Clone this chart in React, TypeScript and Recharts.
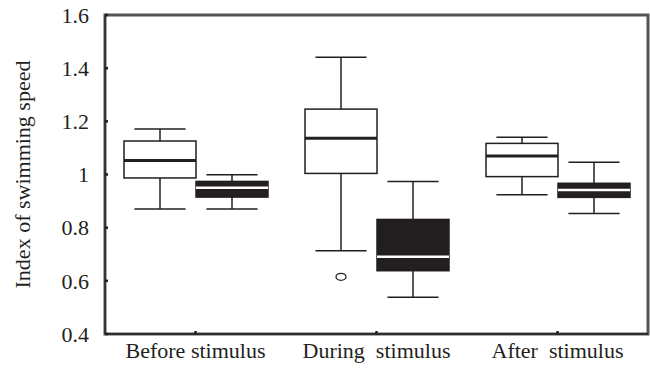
import React from "react";
import { ComposedChart, Bar, XAxis, YAxis, ReferenceArea } from "recharts";

const categories = ["Before stimulus", "During\u00A0 stimulus", "After\u00A0 stimulus"];

// open (white) boxes
const openMin = [0.87, 0.713, 0.924];
const openQ1 = [0.987, 1.004, 0.992];
const openMedian = [1.053, 1.136, 1.07];
const openQ3 = [1.126, 1.246, 1.117];
const openMax = [1.171, 1.441, 1.14];
const openOutliers: number[][] = [[], [0.615], []];

// filled (black) boxes
const filledMin = [0.87, 0.538, 0.853];
const filledQ1 = [0.915, 0.638, 0.914];
const filledMedian = [0.95, 0.691, 0.942];
const filledQ3 = [0.974, 0.831, 0.967];
const filledMax = [0.999, 0.974, 1.046];
const filledOutliers: number[][] = [[], [], []];

const yTicks = [0.4, 0.6, 0.8, 1, 1.2, 1.4, 1.6];

type Stats = { min: number; q1: number; median: number; q3: number; max: number; outliers: number[] };

const data = categories.map((name, i) => ({
  name,
  open: { min: openMin[i], q1: openQ1[i], median: openMedian[i], q3: openQ3[i], max: openMax[i], outliers: openOutliers[i] } as Stats,
  filled: { min: filledMin[i], q1: filledQ1[i], median: filledMedian[i], q3: filledQ3[i], max: filledMax[i], outliers: filledOutliers[i] } as Stats,
}));

const FONT = "Liberation Serif";
const INK = "#231f20";
const textStyle = { fill: INK, fontSize: 22, fontFamily: FONT };

// the bar spans [min, max]; everything inside is placed on the same linear scale
const BoxShape = (props: any) => {
  const { x, y, width, height, payload, kind } = props;
  const s: Stats = payload[kind];
  const top = Math.min(y, y + height);
  const bottom = Math.max(y, y + height);
  const ppu = (bottom - top) / (s.max - s.min);
  const py = (v: number) => bottom - (v - s.min) * ppu;
  const cx = x + width / 2;
  const capHalf = width * 0.355;
  const filled = kind === "filled";
  return (
    <g>
      <line x1={cx} x2={cx} y1={py(s.max)} y2={py(s.q3)} stroke={INK} strokeWidth={1.5} />
      <line x1={cx} x2={cx} y1={py(s.q1)} y2={py(s.min)} stroke={INK} strokeWidth={1.5} />
      <line x1={cx - capHalf} x2={cx + capHalf} y1={py(s.max)} y2={py(s.max)} stroke={INK} strokeWidth={1.5} />
      <line x1={cx - capHalf} x2={cx + capHalf} y1={py(s.min)} y2={py(s.min)} stroke={INK} strokeWidth={1.5} />
      <rect x={x} y={py(s.q3)} width={width} height={py(s.q1) - py(s.q3)} fill={filled ? INK : "#fff"} stroke={INK} strokeWidth={1.5} />
      <line x1={x} x2={x + width} y1={py(s.median)} y2={py(s.median)} stroke={filled ? "#fff" : INK} strokeWidth={filled ? 2.5 : 3} />
      {s.outliers.map((o, j) => (
        <ellipse key={j} cx={cx} cy={py(o)} rx={5} ry={3.5} fill="none" stroke={INK} strokeWidth={1.3} />
      ))}
    </g>
  );
};

const YTick = (props: any) => {
  const { x, y, payload } = props;
  return (
    <text x={x} y={y} dy="0.35em" textAnchor="end" fill={INK} fontSize={22} fontFamily={FONT}>
      {String(Number(Number(payload.value).toFixed(1)))}
    </text>
  );
};

export default function App() {
  return (
    <div style={{ position: "absolute", left: 0, top: 0, background: "#fff", fontFamily: FONT }}>
      <ComposedChart width={650} height={370} data={data} margin={{ top: 15, right: 2, bottom: 0, left: 0 }} barGap={0}>
        {/* plot frame (its stroke is clipped to the plot, so only the inner half shows) */}
        <ReferenceArea y1={0.4} y2={1.6} fill="none" stroke="#555" strokeWidth={3} ifOverflow="visible" />
        <XAxis dataKey="name" height={36} tickSize={-3} tickMargin={11} interval={0}
          axisLine={{ stroke: INK, strokeWidth: 1.5 }} tickLine={{ stroke: INK, strokeWidth: 2.5 }} tick={textStyle} />
        <YAxis domain={[0.4, 1.6]} ticks={yTicks} allowDataOverflow width={105} tickSize={-3} tickMargin={19}
          axisLine={{ stroke: "#333", strokeWidth: 1.8 }} tickLine={{ stroke: INK, strokeWidth: 2.5 }} tick={<YTick />}
          label={{ value: "Index of swimming speed", angle: -90, position: "center", dx: -30, style: textStyle }} />
        <Bar dataKey={(d: any) => [d.open.min, d.open.max]} barSize={72} isAnimationActive={false} shape={(p: any) => <BoxShape {...p} kind="open" />} />
        <Bar dataKey={(d: any) => [d.filled.min, d.filled.max]} barSize={72} isAnimationActive={false} shape={(p: any) => <BoxShape {...p} kind="filled" />} />
      </ComposedChart>
    </div>
  );
}
